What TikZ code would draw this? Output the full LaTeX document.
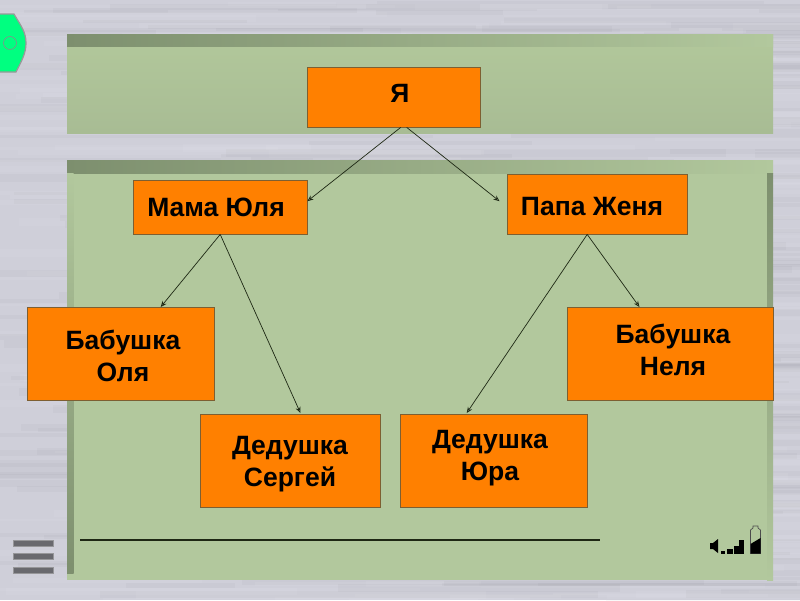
\documentclass[tikz,border=0pt]{standalone}
\usepackage{fontspec}
\setmainfont{Liberation Sans}
\usetikzlibrary{arrows.meta,calc}
\definecolor{bgc}{RGB}{207,207,217}
\definecolor{pan}{RGB}{178,200,157}
\definecolor{pantop}{RGB}{178,200,155}
\definecolor{panbot}{RGB}{168,188,148}
\definecolor{band}{RGB}{125,143,110}
\definecolor{org}{RGB}{255,128,0}
\definecolor{edgec}{RGB}{125,95,50}
\definecolor{btn}{RGB}{0,255,128}
\definecolor{barc}{RGB}{105,105,110}
\definecolor{dk}{RGB}{30,40,20}
\tikzset{
  x=1pt,y=-1pt,
  famnode/.style={draw=edgec,line width=0.9pt,fill=org,anchor=north west,inner sep=0pt},
  famtext/.style={font=\bfseries\fontsize{26.5}{32}\selectfont,align=center,text=black,inner sep=0pt},
  link/.style={draw=dk,line width=0.7pt,-{Stealth[length=6pt,width=5pt,open]}},
  streak/.style={fill=white,opacity=0.06},
  streakd/.style={fill=black!70,opacity=0.035},
  barr/.style={fill=barc,draw=barc!70!white,line width=0.5pt},
}
\begin{document}
\begin{tikzpicture}
\useasboundingbox (0,0) rectangle (800,600);
\fill[bgc] (0,0) rectangle (800,600);
% background streaks
\pgfmathsetseed{42}
\foreach \i in {1,...,260}{
  \pgfmathsetmacro{\yy}{rnd*600}
  \pgfmathsetmacro{\xx}{rnd*860-100}
  \pgfmathsetmacro{\ww}{100+rnd*400}
  \pgfmathsetmacro{\hh}{2+rnd*6}
  \fill[streak] (\xx,\yy) rectangle ++(\ww,\hh);
  \pgfmathsetmacro{\yy}{rnd*600}
  \pgfmathsetmacro{\xx}{rnd*860-100}
  \fill[streakd] (\xx,\yy) rectangle ++(\ww,\hh);
}
% panels
\shade[top color=pantop,bottom color=panbot] (67,34) rectangle (773,133);
\shade[left color=band,right color=pan] (67,34) rectangle (773,46.5);
\fill[pan] (67,160) rectangle (773,580);
\shade[left color=band,right color=pan] (67,160) rectangle (773,173.5);
\shade[top color=pan,bottom color=band] (67,173.5) rectangle (73.5,573.5);
\shade[top color=band,bottom color=pan] (767,173.5) rectangle (773,580);
% green button
\draw[fill=btn,draw=black!40,line width=1.2pt] (-2,14) -- (14,14) .. controls (21,26) and (26,32) .. (26,43) .. controls (26,54) and (21,62) .. (16,72) -- (-2,72) -- cycle;
\draw[draw=black!45,line width=0.6pt] (10,43) circle (6.5);
% menu bars
\fill[barr] (13.5,540.5) rectangle (53,546);
\fill[barr] (13.5,553.5) rectangle (53,559.5);
\fill[barr] (13.5,567) rectangle (53,573);
% bottom rule
\draw[dk,line width=1.6pt] (80,540) -- (600,540);
% speaker & signal bars
\fill[black] (710,543) -- (713,543) -- (718,539) -- (718,553) -- (713,549) -- (710,549) -- cycle;
\fill[black] (721,551) rectangle (725,553.5);
\fill[black] (727,549) rectangle (733,553.5);
\fill[black] (734,546) rectangle (739,553.5);
\fill[black] (739,540) rectangle (744,553.5);
% battery
\draw[black!70,line width=0.7pt] (750.5,553.5) -- (750.5,530) -- (753,528) -- (753,526) -- (758,526) -- (758,528) -- (760.5,530) -- (760.5,553.5) -- cycle;
\fill[black] (750.5,553.5) -- (750.5,544) -- (760.5,538) -- (760.5,553.5) -- cycle;
% boxes
\node[famnode,minimum width=172.5pt,minimum height=59.5pt] (ya) at (307,67) {};
\node[famnode,minimum width=173.5pt,minimum height=53.5pt] (mama) at (133,180) {};
\node[famnode,minimum width=180.5pt,minimum height=59.5pt] (papa) at (506.5,174) {};
\node[famnode,minimum width=186.5pt,minimum height=92.5pt] (bo) at (27,307) {};
\node[famnode,minimum width=180pt,minimum height=92.5pt] (ds) at (200,414) {};
\node[famnode,minimum width=186.5pt,minimum height=92.5pt] (dy) at (400,414) {};
\node[famnode,minimum width=206pt,minimum height=92.5pt] (bn) at (567,307) {};
% texts
\node[famtext] (tya) at (400,93) {Я};
\node[famtext] (tmama) at (216,207) {Мама Юля};
\node[famtext] (tpapa) at (592,207) {Папа Женя};
\node[famtext] (tbo) at (123,355.5) {Бабушка\\Оля};
\node[famtext] (tds) at (290,464.5) {Дедушка\\Сергей};
\node[famtext] (tdy) at (490,458.5) {Дедушка\\Юра};
\node[famtext] (tbn) at (673,350) {Бабушка\\Неля};
% connectors
\draw[link] ($(ya.south)+(7,0)$) -- ($(mama.east)+(0,-6)$);
\draw[link] ($(ya.south)+(13,0)$) -- ($(papa.west)+(-7,-3)$);
\draw[link] (mama.south) -- ($(bo.north)+(40,0)$);
\draw[link] (mama.south) -- ($(ds.north)+(10,-1)$);
\draw[link] ($(papa.south)+(-10,0)$) -- ($(bn.north)+(-31,0)$);
\draw[link] ($(papa.south)+(-10,0)$) -- ($(dy.north)+(-27,-1)$);
\end{tikzpicture}
\end{document}
